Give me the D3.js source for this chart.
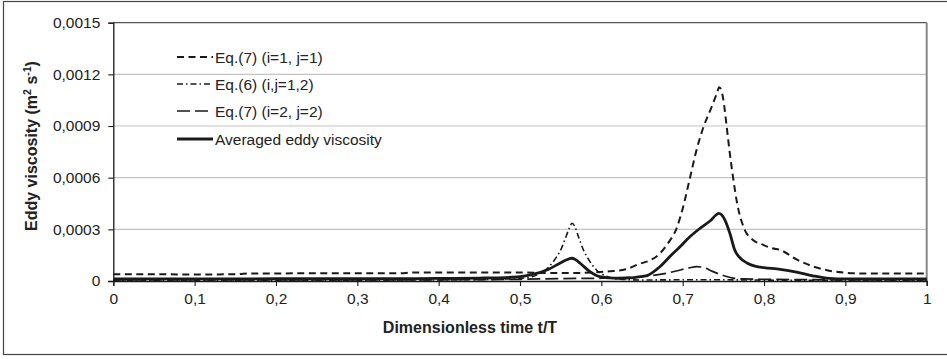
<!DOCTYPE html>
<html><head><meta charset="utf-8">
<script src="https://cdn.jsdelivr.net/npm/d3@7/dist/d3.min.js"></script>
<style>body{margin:0;background:#fff}svg{display:block;font-family:"Liberation Sans",Arial,sans-serif}</style>
</head><body><svg id="c" width="947" height="359"></svg>
<script>
// ---- data ----
const xTicks = [0,0.1,0.2,0.3,0.4,0.5,0.6,0.7,0.8,0.9,1];
const xTickLabels = ["0","0,1","0,2","0,3","0,4","0,5","0,6","0,7","0,8","0,9","1"];
const yTicks = [0,0.0003,0.0006,0.0009,0.0012,0.0015];
const yTickLabels = ["0","0,0003","0,0006","0,0009","0,0012","0,0015"];
const seriesNames = ["Eq.(7) (i=1, j=1)","Eq.(6) (i,j=1,2)","Eq.(7) (i=2, j=2)","Averaged eddy viscosity"];

const tEq7a = [0,0.05,0.1,0.15,0.17,0.2,0.25,0.3,0.35,0.37,0.4,0.45,0.5,0.53,0.56,0.59,0.61,0.63,0.647,0.66,0.672,0.682,0.692,0.700,0.709,0.717,0.726,0.733,0.738,0.742,0.745,0.748,0.751,0.754,0.758,0.762,0.767,0.776,0.786,0.799,0.81,0.82,0.84,0.86,0.88,0.9,0.92,0.95,1.0];
const vEq7a = [3.9e-5,3.9e-5,3.8e-5,3.9e-5,4.4e-5,4.4e-5,4.5e-5,4.5e-5,4.5e-5,4.9e-5,4.9e-5,5.0e-5,5.0e-5,4.7e-5,4.6e-5,5.0e-5,5.6e-5,6.8e-5,1.0e-4,1.2e-4,1.6e-4,2.2e-4,3.0e-4,4.2e-4,6.0e-4,7.6e-4,9.0e-4,9.8e-4,1.04e-3,1.09e-3,1.125e-3,1.10e-3,1.02e-3,9.0e-4,7.4e-4,6.0e-4,4.5e-4,3.0e-4,2.4e-4,2.1e-4,1.9e-4,1.8e-4,1.25e-4,8.5e-5,6.0e-5,4.8e-5,4.4e-5,4.3e-5,4.3e-5];

const tEq6 = [0,0.1,0.2,0.3,0.4,0.48,0.5,0.515,0.525,0.535,0.545,0.551,0.556,0.560,0.564,0.567,0.572,0.578,0.585,0.594,0.605,0.62,0.65,0.7,0.75,0.8,0.9,1.0];
const vEq6 = [4e-6,4e-6,4e-6,5e-6,6e-6,1.1e-5,1.5e-5,2.5e-5,4.5e-5,8e-5,1.4e-4,1.9e-4,2.5e-4,3.0e-4,3.35e-4,3.2e-4,2.55e-4,1.8e-4,1.2e-4,6.4e-5,3.0e-5,1.2e-5,6e-6,7e-6,7e-6,5e-6,4e-6,4e-6];

const tEq7b = [0,0.2,0.4,0.5,0.55,0.6,0.64,0.66,0.672,0.685,0.697,0.708,0.717,0.725,0.7365,0.745,0.754,0.762,0.775,0.8,0.85,0.9,1.0];
const vEq7b = [6e-6,6e-6,7e-6,1.0e-5,1.4e-5,1.6e-5,2.2e-5,3.0e-5,3.8e-5,5.0e-5,6.4e-5,7.6e-5,8.3e-5,8.0e-5,5.6e-5,4.0e-5,2.6e-5,1.7e-5,1.2e-5,1.0e-5,8e-6,6e-6,6e-6];

const tAvg = [0,0.1,0.2,0.3,0.4,0.45,0.49,0.5,0.513,0.533,0.549,0.556,0.5636,0.568,0.574,0.586,0.598,0.61,0.62,0.64,0.648,0.658,0.672,0.688,0.697,0.705,0.721,0.734,0.7445,0.752,0.758,0.764,0.771,0.779,0.79,0.80,0.82,0.84,0.86,0.88,0.9,1.0];
const vAvg = [1.2e-5,1.2e-5,1.3e-5,1.3e-5,1.5e-5,1.7e-5,2.2e-5,2.5e-5,3.5e-5,6.4e-5,1.03e-4,1.2e-4,1.32e-4,1.25e-4,1.03e-4,5.4e-5,2.5e-5,1.8e-5,1.6e-5,2.0e-5,2.5e-5,3.5e-5,8.3e-5,1.6e-4,2.0e-4,2.4e-4,3.05e-4,3.5e-4,3.93e-4,3.54e-4,2.77e-4,1.8e-4,1.32e-4,1.05e-4,8.5e-5,7.8e-5,6.8e-5,5.2e-5,3.0e-5,1.5e-5,1.2e-5,1.2e-5];

// ---- chart ----
const svg = d3.select("#c");
const ink = "#1a1a1a";
svg.append("rect").attr("x",0).attr("y",0).attr("width",947).attr("height",359).attr("fill","#fff");
svg.append("rect").attr("x",3.5).attr("y",1.5).attr("width",950).attr("height",353).attr("fill","none").attr("stroke","#444").attr("stroke-width",1.2);

const x = d3.scaleLinear().domain([0,1]).range([113.3,926.7]);
const y = d3.scaleLinear().domain([0,0.0015]).range([281,22.7]);

// gridlines
svg.append("g").selectAll("line").data(yTicks.slice(1,-1)).join("line")
  .attr("x1",x(0)).attr("x2",x(1)).attr("y1",d=>y(d)).attr("y2",d=>y(d))
  .attr("stroke","#c4c4c4").attr("stroke-width",1.2);
// plot frame top / right
svg.append("line").attr("x1",x(0)).attr("x2",x(1)).attr("y1",y(0.0015)).attr("y2",y(0.0015)).attr("stroke","#555").attr("stroke-width",1.2);
svg.append("line").attr("x1",x(1)).attr("x2",x(1)).attr("y1",y(0.0015)).attr("y2",y(0)).attr("stroke","#888").attr("stroke-width",2);

// axes
const yAxis = d3.axisLeft(y).tickValues(yTicks).tickFormat((d,i)=>yTickLabels[i]).tickSizeOuter(0).tickSize(5).tickPadding(8);
const gy = svg.append("g").attr("transform",`translate(${x(0)},0)`).call(yAxis);
const xAxis = d3.axisBottom(x).tickValues(xTicks).tickFormat((d,i)=>xTickLabels[i]).tickSizeOuter(0).tickSize(5).tickPadding(7);
const gx = svg.append("g").attr("transform",`translate(0,${y(0)})`).call(xAxis);
[gx,gy].forEach(g=>{
  g.select(".domain").attr("stroke",ink).attr("stroke-width",1.3);
  g.selectAll(".tick line").attr("stroke",ink).attr("stroke-width",1.1);
  g.selectAll(".tick text").attr("fill","#222").style("font-size","15.5px").style("font-family","'Liberation Sans',Arial,sans-serif");
});

// series
const styles = [
  {t:tEq7a, v:vEq7a, w:2, dash:"7,4.5"},
  {t:tEq6, v:vEq6, w:1.6, dash:"6,3,1.5,3"},
  {t:tEq7b, v:vEq7b, w:1.7, dash:"13,5"},
  {t:tAvg, v:vAvg, w:2.8, dash:null}
];
const line = d3.line().x(d=>x(d[0])).y(d=>y(d[1])).curve(d3.curveMonotoneX);
const order = [2,1,0,3];
order.forEach(i=>{
  const s = styles[i];
  svg.append("path").datum(s.t.map((t,k)=>[t,s.v[k]]))
    .attr("d",line).attr("fill","none").attr("stroke",ink)
    .attr("stroke-width",s.w).attr("stroke-dasharray",s.dash)
    .attr("stroke-linejoin","round");
});

// legend
const legY = [57,84,111,139];
seriesNames.forEach((name,i)=>{
  const s = styles[i];
  svg.append("line").attr("x1",177).attr("x2",213).attr("y1",legY[i]).attr("y2",legY[i])
    .attr("stroke",ink).attr("stroke-width",s.w).attr("stroke-dasharray",s.dash);
  svg.append("text").attr("x",215).attr("y",legY[i]+5.5).text(name)
    .attr("fill","#222").style("font-size","15.5px");
});

// axis titles
svg.append("text").attr("x",470).attr("y",333).attr("text-anchor","middle")
  .style("font-size","16px").style("font-weight","bold").attr("fill","#222").text("Dimensionless time t/T");
const yt = svg.append("text").attr("transform","translate(37,146) rotate(-90)").attr("text-anchor","middle")
  .style("font-size","16px").style("font-weight","bold").attr("fill","#222");
yt.append("tspan").text("Eddy viscosity (m");
yt.append("tspan").attr("baseline-shift","super").style("font-size","10.5px").text("2");
yt.append("tspan").text(" s");
yt.append("tspan").attr("baseline-shift","super").style("font-size","10.5px").text("-1");
yt.append("tspan").text(")");
</script></body></html>
